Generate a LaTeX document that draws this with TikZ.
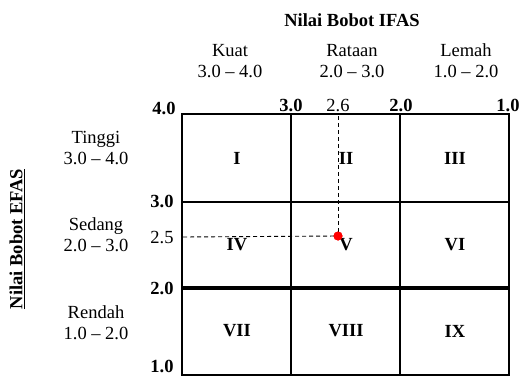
\documentclass[tikz,border=0pt]{standalone}
\usepackage{fontspec}
\setmainfont{Liberation Serif}
\usetikzlibrary{calc}

\tikzset{
  lbl/.style={font=\fontsize{18.5}{21}\selectfont, inner sep=0pt, align=center},
  tick/.style={font=\fontsize{18.5}{21}\selectfont, inner sep=0pt},
  btick/.style={tick, font=\fontsize{18.5}{21}\selectfont\bfseries},
  cell/.style={font=\fontsize{18.5}{21}\selectfont\bfseries, inner sep=0pt},
  grid/.style={line width=2.6pt},
  guide/.style={dash pattern=on 4pt off 3pt, line width=0.9pt},
}

\begin{document}
\begin{tikzpicture}[x=1pt,y=-1pt]
    \useasboundingbox (0,0) rectangle (521,377);
    \coordinate (NW) at (182,114);
    \coordinate (SE) at (509,375);
    \draw[grid] (NW) rectangle (SE);
    \foreach \x in {291,400}
        \draw[grid] (\x,114) -- (\x,375);
    \draw[grid] (182,202) -- (509,202);
    \draw[line width=3.8pt] (182,288) -- (509,288);
    \node[lbl, font=\fontsize{18.5}{21}\selectfont\bfseries] (ifas) at (352,20) {Nilai Bobot IFAS};
    \node[lbl] (kuat) at (230,61) {Kuat\\3.0 -- 4.0};
    \node[lbl] (rataan) at (352,61) {Rataan\\2.0 -- 3.0};
    \node[lbl] (lemah) at (466,61) {Lemah\\1.0 -- 2.0};
    \node[lbl, rotate=90, font=\fontsize{18.5}{21}\selectfont\bfseries] (efas) at (17,239) {\underline{Nilai Bobot EFAS}};
    \node[lbl] (tinggi) at (96,148) {Tinggi\\3.0 -- 4.0};
    \node[lbl] (sedang) at (96,235) {Sedang\\2.0 -- 3.0};
    \node[lbl] (rendah) at (96,323) {Rendah\\1.0 -- 2.0};
    \node[btick] (t40) at (164,108) {4.0};
    \node[btick] (t30) at (291,105) {3.0};
    \node[tick] (t26) at (338,106) {2.6};
    \node[btick] (t20) at (401,105) {2.0};
    \node[btick] (t10) at (508,105) {1.0};
    \node[btick] (l30) at (162,201) {3.0};
    \node[tick] (l25) at (162,238) {2.5};
    \node[btick] (l20) at (162,288) {2.0};
    \node[btick] (l10) at (162,366) {1.0};
    \node[cell] (c1) at (237,158) {I};
    \node[cell] (c2) at (346,158) {II};
    \node[cell] (c3) at (455,158) {III};
    \node[cell] (c4) at (237,245) {IV};
    \node[cell] (c5) at (346,245) {V};
    \node[cell] (c6) at (455,245) {VI};
    \node[cell] (c7) at (237,331) {VII};
    \node[cell] (c8) at (346,331) {VIII};
    \node[cell] (c9) at (455,331) {IX};
    \coordinate (px) at (338,116);
    \coordinate (py) at (183,237);
    \node[circle, fill=red, inner sep=0pt, minimum size=9pt] (pos) at (338,236) {};
    \draw[guide] (px) -- (pos.center);
    \draw[guide] (py) -- (pos.center);
    \fill[red] (pos) circle (4.5);
\end{tikzpicture}
\end{document}
